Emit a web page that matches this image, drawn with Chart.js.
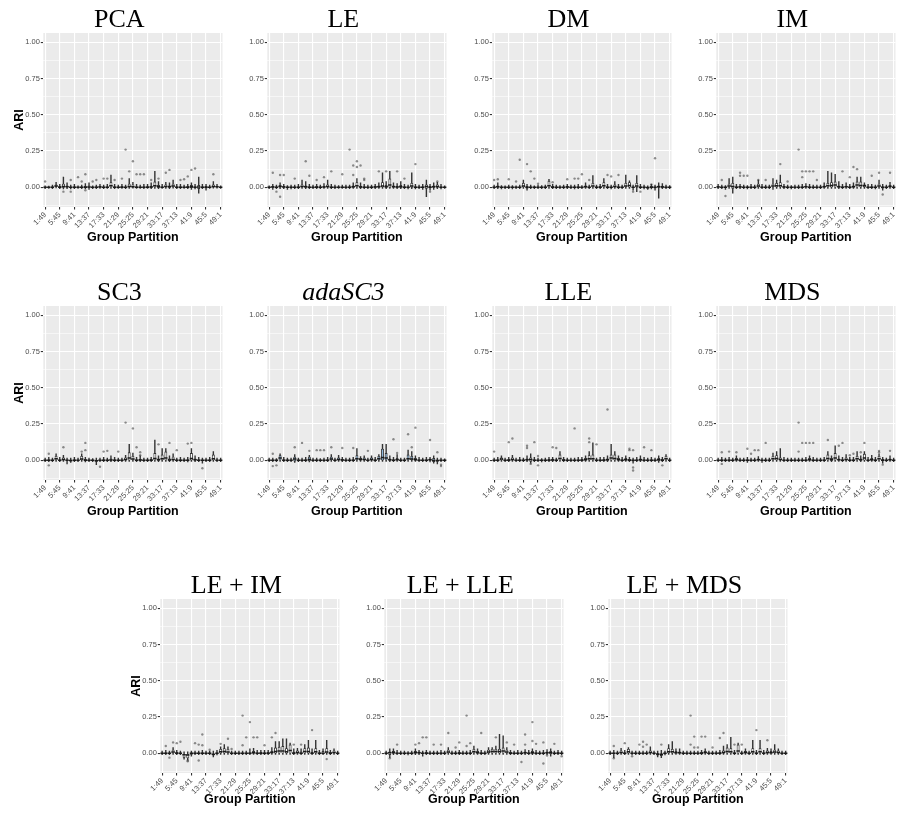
<!DOCTYPE html>
<html>
<head>
<meta charset="utf-8">
<script src="https://cdn.jsdelivr.net/npm/chart.js@4.4.1/dist/chart.umd.min.js"></script>
<style>
  html, body { margin: 0; padding: 0; background: #fff; overflow: hidden; }
  #page { position: relative; width: 897px; height: 816px; overflow: hidden; }
  .panel { position: absolute; width: 228px; height: 250px; }
</style>
</head>
<body>
<div id="page"></div>
<script>
// group partitions on the x axis
const groups = ['1:49','2:48','3:47','4:46','5:45','6:44','7:43','8:42','9:41','10:40','11:39','12:38','13:37','14:36','15:35','16:34','17:33','18:32','19:31','20:30','21:29','22:28','23:27','24:26','25:25','26:24','27:23','28:22','29:21','30:20','31:19','32:18','33:17','34:16','35:15','36:14','37:13','38:12','39:11','40:10','41:9','42:8','43:7','44:6','45:5','46:4','47:3','48:2','49:1'];
const tickLabels = ['1:49','5:45','9:41','13:37','17:33','21:29','25:25','29:21','33:17','37:13','41:9','45:5','49:1'];
const yMajor = [0, 0.25, 0.5, 0.75, 1];
const yMinor = [-0.125, 0.125, 0.375, 0.625, 0.875];
const yMin = -0.136, yMax = 1.064;

// PCA
const pcaLo = [-.01,-.008,-.01,-.005,-.01,-.012,-.01, -.012,-.01,-.008,-.01,-.01,-.015,-.01, -.01,-.008,-.01,-.008,-.008,-.01,-.008, -.008,-.01,-.008,-.006,-.008,-.008,-.01, -.008,-.01,-.008,-.01,-.008,-.008,-.01, -.006,-.01,-.01,-.008,-.01,-.015,-.012, -.04,-.01,-.02,-.008,-.006,-.006,-.008];
const pcaQ1 = [-.004,-.003,-.003,0,-.003,-.003,-.002, -.005,-.004,-.003,-.004,-.003,-.006,-.004, -.003,-.002,-.004,-.003,-.002,-.004,-.003, -.003,-.004,-.002,-.002,-.003,-.003,-.004, -.003,-.003,-.002,-.003,-.003,-.002,-.003, -.002,-.004,-.003,-.003,-.004,-.005,-.004, -.012,-.004,-.008,-.003,-.002,-.002,-.003];
const pcaMed = [0,0,0,.008,0,.005,.003, 0,0,0,0,0,.002,0, 0,.002,0,0,.01,0,0, 0,0,.005,.004,0,0,0, 0,.002,.01,.004,0,.005,.003, .008,0,0,0,0,.003,0, .002,0,0,0,.005,.003,0];
const pcaQ3 = [.003,.002,.005,.02,.008,.025,.012, .004,.006,.003,.005,.008,.012,.003, .005,.01,.004,.006,.035,.006,.004, .008,.004,.025,.02,.006,.004,.006, .007,.01,.04,.015,.006,.02,.012, .025,.006,.005,.004,.008,.015,.006, .015,.006,.008,.004,.02,.01,.003];
const pcaHi = [.01,.008,.015,.035,.02,.07,.03, .015,.02,.01,.015,.025,.03,.01, .015,.02,.015,.02,.085,.02,.015, .02,.015,.06,.035,.02,.015,.02, .02,.03,.11,.04,.02,.035,.03, .05,.02,.02,.015,.02,.03,.02, .07,.02,.02,.015,.04,.02,.01];
const pcaOut = [[1,.04],[6,-.03],[8,.05],[8,-.03],[10,.07],[11,.04],[12,.09],[12,-.02],[14,.04],[15,.05],[17,.06],[18,.06],[20,.05],[22,.06],[23,.26],[24,.11],[25,.18],[26,.09],[27,.09],[28,.09],[30,.05],[32,.06],[34,.1],[35,.12],[38,.05],[39,.055],[40,.075],[41,.12],[42,.13],[47,.09]];

// LE
const leLo = [-.01,-.015,-.01,-.01,-.01,-.015,-.012, -.01,-.01,-.008,-.01,-.01,-.01,-.01, -.01,-.008,-.008,-.01,-.01,-.008,-.008, -.01,-.01,-.008,-.008,-.01,-.01,-.01, -.01,-.01,-.008,-.008,-.01,-.008,-.008, -.01,-.01,-.01,-.012,-.01,-.012,-.01, -.015,-.065,-.02,-.015,-.01,-.012,-.008];
const leQ1 = [-.003,-.003,-.004,-.002,-.002,-.005,-.004, -.003,-.004,-.002,-.003,-.004,-.003,-.003, -.004,-.003,-.002,-.003,-.004,-.003,-.003, -.003,-.004,-.003,-.002,-.003,-.003,-.004, -.003,-.003,-.003,-.002,-.003,-.003,-.002, -.003,-.004,-.003,-.004,-.003,-.004,-.003, -.005,-.01,-.006,-.004,-.003,-.004,-.003];
const leMed = [0,.002,0,.005,.002,0,0, 0,0,.005,.003,0,0,0, 0,.002,.006,0,0,0,0, 0,0,.003,.01,.002,0,0, 0,.002,.003,.008,.004,.015,.003, .002,.004,0,0,.008,0,0, 0,.005,0,.003,.005,0,0];
const leQ3 = [.003,.008,.004,.015,.008,.004,.005, .004,.006,.02,.012,.006,.004,.008, .005,.008,.02,.006,.004,.003,.004, .004,.005,.012,.035,.01,.006,.004, .005,.008,.012,.035,.015,.06,.012, .01,.015,.006,.004,.03,.006,.004, .006,.02,.008,.012,.02,.006,.003];
const leHi = [.01,.02,.015,.03,.02,.012,.015, .015,.02,.05,.04,.02,.015,.02, .015,.025,.05,.02,.015,.012,.015, .015,.015,.03,.06,.03,.02,.015, .015,.02,.03,.1,.04,.11,.03, .025,.04,.02,.015,.1,.02,.015, .02,.05,.02,.03,.035,.02,.01];
const leOut = [[2,.1],[3,-.03],[4,.085],[5,.085],[4,-.065],[8,.06],[11,.18],[12,.08],[14,.05],[16,.07],[18,.11],[21,.09],[23,.26],[24,.15],[24,.085],[25,.18],[25,.14],[26,.15],[27,.06],[27,.05],[31,.11],[33,.11],[36,.11],[38,.06],[41,.16],[45,-.03],[47,.04]];

// DM
const dmLo = [-.01,-.01,-.012,-.01,-.01,-.012,-.01, -.01,-.008,-.02,-.01,-.01,-.01,-.01, -.01,-.008,-.01,-.01,-.01,-.01,-.01, -.01,-.012,-.01,-.01,-.008,-.01,-.008, -.01,-.01,-.008,-.01,-.012,-.008,-.01, -.01,-.008,-.008,-.02,-.03,-.01,-.012, -.015,-.012,-.02,-.075,-.01,-.01,-.01];
const dmQ1 = [-.003,-.003,-.004,-.003,-.003,-.004,-.003, -.003,-.002,-.01,-.003,-.004,-.003,-.003, -.003,-.002,-.003,-.004,-.003,-.003,-.003, -.003,-.004,-.003,-.003,-.002,-.003,-.002, -.003,-.003,-.002,-.003,-.004,-.002,-.003, -.003,-.002,-.002,-.004,-.003,-.003,-.004, -.01,-.004,-.008,-.004,-.003,-.003,-.003];
const dmMed = [0,.004,0,0,0,0,0, 0,.008,0,0,0,0,0, 0,.01,0,0,0,0,.002, 0,0,0,0,.004,0,.008, 0,0,.01,0,0,.005,0, 0,.008,.012,0,.008,0,0, -.002,0,0,.003,.002,0,0];
const dmQ3 = [.004,.012,.003,.003,.004,.003,.003, .004,.03,.008,.004,.003,.004,.003, .005,.045,.008,.004,.003,.004,.008, .004,.004,.006,.003,.012,.004,.03, .004,.008,.035,.006,.004,.02,.006, .005,.03,.035,.004,.03,.006,.004, .002,.008,.004,.012,.01,.004,.003];
const dmHi = [.015,.03,.012,.01,.015,.012,.01, .015,.05,.02,.015,.01,.015,.012, .015,.055,.02,.015,.012,.015,.02, .015,.015,.02,.012,.03,.015,.08, .015,.02,.06,.02,.015,.04,.02, .015,.085,.045,.015,.08,.02,.015, .01,.02,.015,.03,.025,.015,.012];
const dmOut = [[1,.05],[2,.055],[5,.055],[7,.04],[8,.19],[10,.16],[11,.11],[12,.06],[13,.025],[17,.035],[21,.055],[23,.06],[24,.06],[25,.09],[27,.05],[32,.085],[33,.075],[35,.085],[39,-.03],[41,-.03],[44,.02],[45,.2]];

// IM
const imLo = [-.01,-.01,-.015,-.008,-.04,-.01,-.01, -.01,-.012,-.01,-.01,-.008,-.01,-.01, -.01,-.015,-.008,-.008,-.01,-.01,-.012, -.01,-.01,-.01,-.008,-.01,-.01,-.01, -.01,-.008,-.008,-.008,-.008,-.01,-.01, -.008,-.01,-.008,-.008,-.008,-.008,-.01, -.01,-.012,-.008,-.02,-.01,-.008,-.01];
const imQ1 = [-.002,-.003,-.004,-.002,-.01,-.003,-.002, -.003,-.004,-.003,-.003,-.002,-.003,-.003, -.003,-.002,-.002,-.002,-.003,-.003,-.004, -.003,-.003,-.003,-.002,-.003,-.003,-.003, -.003,-.002,-.002,-.002,-.002,-.003,-.003, -.002,-.003,-.002,-.002,-.002,-.002,-.003, -.003,-.004,-.002,-.008,-.003,-.002,-.003];
const imMed = [.002,0,0,.008,.005,0,.002, 0,0,0,0,.008,0,0, 0,.008,.01,.01,.002,0,0, 0,0,0,.003,0,0,0, 0,.003,.01,.012,.015,.003,0, .003,0,.003,.015,.012,.012,0, 0,0,.008,0,0,.005,0];
const imQ3 = [.008,.004,.003,.025,.03,.006,.008, .004,.003,.006,.004,.025,.006,.004, .004,.025,.03,.035,.008,.004,.003, .004,.003,.006,.01,.006,.004,.004, .004,.012,.03,.035,.04,.012,.006, .01,.006,.012,.04,.04,.012,.006, .006,.004,.025,.006,.004,.015,.004];
const imHi = [.02,.015,.012,.06,.07,.02,.02, .015,.012,.02,.015,.05,.02,.015, .015,.06,.05,.085,.02,.015,.012, .015,.015,.02,.025,.02,.015,.015, .015,.03,.11,.1,.09,.04,.02, .03,.02,.03,.07,.07,.03,.02, .02,.015,.05,.02,.015,.035,.015];
const imOut = [[2,.05],[3,-.06],[7,.1],[7,.08],[8,.08],[9,.08],[12,.05],[14,.05],[18,.16],[20,.04],[23,.26],[24,.07],[24,.11],[25,.11],[26,.11],[27,.11],[28,.05],[35,.11],[37,.07],[38,.14],[39,.125],[43,.08],[45,.1],[46,-.05],[48,.1]];

// SC3
const scLo = [-.01,-.01,-.01,-.008,-.01,-.008,-.025, -.015,-.01,-.01,-.008,-.012,-.01,-.01, -.03,-.01,-.01,-.01,-.01,-.01,-.01, -.01,-.008,-.008,-.008,-.01,-.01,-.01, -.01,-.01,-.008,-.01,-.008,-.008,-.01, -.008,-.01,-.01,-.01,-.012,-.008,-.01, -.01,-.02,-.01,-.01,-.008,-.01,-.01];
const scQ1 = [-.003,-.003,-.003,-.002,-.003,-.002,-.004, -.008,-.003,-.003,-.002,-.006,-.003,-.003, -.01,-.003,-.003,-.003,-.003,-.003,-.003, -.003,-.002,-.002,-.002,-.003,-.003,-.003, -.003,-.003,-.002,-.003,-.002,-.002,-.003, -.002,-.003,-.003,-.003,-.006,-.002,-.003, -.003,-.004,-.003,-.003,-.002,-.003,-.003];
const scMed = [0,0,0,.01,0,.005,0, -.002,0,0,.008,0,0,0, -.004,0,0,0,.002,0,0, 0,.005,.015,.008,0,.002,0, 0,0,.012,.003,.01,.015,.002, .006,0,0,0,0,.012,.003, 0,0,0,0,.01,0,0];
const scQ3 = [.004,.006,.004,.03,.006,.02,.004, .004,.006,.004,.03,.008,.004,.003, .004,.003,.006,.004,.012,.006,.004, .004,.02,.055,.03,.006,.01,.004, .004,.008,.05,.012,.04,.06,.012, .025,.004,.006,.004,.006,.05,.012, .006,.004,.004,.006,.04,.004,.004];
const scHi = [.015,.02,.015,.045,.02,.035,.015, .015,.02,.015,.045,.02,.015,.012, .015,.015,.02,.015,.03,.02,.015, .015,.035,.11,.05,.02,.03,.015, .015,.02,.14,.03,.08,.08,.03, .045,.015,.02,.015,.02,.08,.03, .02,.015,.015,.02,.06,.015,.015];
const scOut = [[2,.045],[2,-.035],[6,.09],[11,.06],[12,.12],[12,.07],[16,-.045],[17,.06],[18,.065],[21,.06],[23,.26],[25,.22],[26,.09],[27,.055],[27,.035],[32,.11],[35,.12],[37,.07],[40,.115],[41,.12],[44,-.055]];

// adaSC3
const adaLo = [-.01,-.01,-.01,-.008,-.01,-.01,-.01, -.015,-.01,-.01,-.01,-.012,-.01,-.01, -.01,-.01,-.01,-.008,-.01,-.008,-.01, -.01,-.01,-.01,-.008,-.008,-.008,-.01, -.008,-.01,-.008,-.008,-.008,-.01,-.01, -.008,-.01,-.01,-.008,-.008,-.008,-.01, -.01,-.01,-.012,-.02,-.025,-.01,-.01];
const adaQ1 = [-.003,-.003,-.003,-.002,-.003,-.003,-.003, -.008,-.003,-.003,-.003,-.006,-.003,-.003, -.003,-.003,-.003,-.002,-.003,-.002,-.003, -.003,-.003,-.003,-.002,-.002,-.002,-.003, -.002,-.003,-.002,-.002,-.002,-.003,-.003, -.002,-.003,-.003,-.002,-.002,-.002,-.003, -.003,-.003,-.004,-.012,-.01,-.003,-.003];
const adaMed = [0,0,0,.015,0,0,0, .008,0,0,0,.005,0,0, 0,0,0,.008,0,.005,.002, 0,0,0,.01,.005,.005,0, .006,0,.01,.02,.015,.003,0, .004,0,0,.01,.008,.004,0, 0,0,.003,-.002,-.002,0,0];
const adaQ3 = [.004,.004,.003,.035,.006,.004,.004, .025,.004,.004,.006,.025,.004,.004, .003,.004,.006,.025,.004,.02,.008, .004,.004,.006,.035,.015,.02,.004, .02,.006,.03,.08,.05,.012,.006, .015,.004,.004,.04,.03,.015,.006, .004,.006,.012,.015,.004,.004,.003];
const adaHi = [.015,.015,.012,.045,.02,.015,.015, .04,.015,.015,.02,.035,.015,.015, .012,.015,.02,.04,.015,.035,.02, .015,.015,.02,.08,.025,.03,.015, .03,.02,.04,.11,.11,.03,.02, .04,.015,.015,.07,.06,.03,.02, .015,.02,.02,.03,.015,.015,.01];
const adaOut = [[2,.045],[2,-.04],[3,-.035],[8,.09],[10,.12],[12,.065],[14,.07],[15,.07],[16,.07],[18,.09],[21,.085],[24,.085],[28,.065],[35,.145],[36,.05],[39,.18],[40,.09],[41,.225],[45,.14],[47,.055],[48,-.03],[48,-.04]];

// LLE
const lleLo = [-.01,-.01,-.008,-.01,-.01,-.008,-.01, -.01,-.01,-.01,-.02,-.01,-.01,-.012, -.01,-.01,-.01,-.01,-.008,-.01,-.01, -.01,-.01,-.01,-.01,-.008,-.008,-.008, -.01,-.01,-.01,-.01,-.008,-.008,-.008, -.01,-.008,-.01,-.02,-.01,-.01,-.01, -.01,-.01,-.01,-.015,-.01,-.008,-.01];
const lleQ1 = [-.003,-.003,-.002,-.003,-.003,-.002,-.003, -.003,-.003,-.003,-.01,-.003,-.003,-.004, -.003,-.003,-.003,-.003,-.002,-.003,-.003, -.003,-.003,-.003,-.003,-.002,-.002,-.002, -.003,-.003,-.003,-.003,-.002,-.002,-.002, -.003,-.002,-.003,-.008,-.003,-.003,-.003, -.003,-.003,-.003,-.006,-.003,-.002,-.003];
const lleMed = [0,0,.008,0,0,.006,0, 0,0,.003,.005,0,0,0, 0,0,.002,0,.012,0,0, 0,0,0,0,.004,.01,.01, 0,0,0,.003,.015,.012,.004, 0,.004,0,0,0,.003,0, 0,0,0,.004,0,.01,0];
const lleQ3 = [.004,.006,.02,.004,.008,.02,.004, .006,.004,.012,.02,.006,.004,.003, .004,.008,.01,.004,.04,.008,.004, .004,.004,.006,.008,.015,.035,.04, .004,.006,.008,.012,.04,.04,.015, .006,.015,.008,.004,.006,.012,.006, .004,.006,.004,.015,.008,.03,.004];
const lleHi = [.015,.02,.03,.015,.02,.035,.015, .02,.015,.03,.045,.02,.015,.012, .015,.02,.02,.015,.06,.02,.015, .015,.015,.02,.02,.03,.06,.12, .015,.02,.02,.03,.11,.06,.03, .02,.03,.02,.015,.02,.03,.02, .015,.02,.015,.03,.02,.04,.015];
const lleOut = [[1,.06],[5,.125],[6,.15],[10,.1],[10,.085],[11,-.025],[12,.125],[13,.03],[13,-.035],[17,.09],[18,.085],[23,.22],[27,.15],[27,.125],[29,.11],[32,.35],[38,.08],[38,.07],[39,.07],[39,-.05],[39,-.07],[42,.09],[44,.07],[47,-.035]];

// MDS
const mdsLo = [-.01,-.01,-.01,-.01,-.01,-.008,-.01, -.01,-.015,-.01,-.01,-.008,-.015,-.01, -.01,-.008,-.008,-.008,-.01,-.01,-.01, -.01,-.01,-.01,-.01,-.008,-.01,-.01, -.01,-.01,-.008,-.01,-.008,-.008,-.01, -.008,-.01,-.01,-.008,-.01,-.008,-.01, -.008,-.01,-.008,-.02,-.01,-.008,-.01];
const mdsQ1 = [-.003,-.003,-.003,-.003,-.003,-.002,-.003, -.003,-.006,-.003,-.003,-.002,-.006,-.003, -.003,-.002,-.002,-.002,-.003,-.003,-.003, -.003,-.003,-.003,-.003,-.002,-.003,-.003, -.003,-.003,-.002,-.003,-.002,-.002,-.003, -.002,-.003,-.003,-.002,-.003,-.002,-.003, -.002,-.003,-.002,-.006,-.003,-.002,-.003];
const mdsMed = [0,0,0,0,0,.004,0, 0,0,0,0,.003,0,0, 0,.01,.012,.006,0,0,0, 0,0,0,0,.004,0,0, 0,0,.012,.003,.015,.003,0, .006,0,0,.01,.003,.015,0, .004,0,.01,0,0,.003,0];
const mdsQ3 = [.004,.006,.004,.006,.004,.015,.004, .004,.006,.004,.004,.012,.004,.004, .004,.03,.035,.02,.006,.004,.004, .004,.004,.004,.006,.015,.006,.004, .004,.006,.04,.015,.05,.012,.006, .02,.006,.006,.03,.012,.045,.006, .015,.006,.03,.008,.004,.012,.004];
const mdsHi = [.015,.02,.015,.02,.015,.03,.015, .015,.02,.015,.015,.025,.015,.015, .015,.05,.06,.08,.02,.015,.015, .015,.015,.015,.02,.03,.02,.015, .015,.02,.06,.03,.1,.03,.02, .04,.02,.02,.06,.03,.06,.02, .035,.02,.045,.02,.015,.03,.015];
const mdsOut = [[2,.055],[2,-.025],[4,.06],[6,.055],[9,.08],[10,.045],[11,.07],[12,.07],[14,.12],[23,.26],[23,.06],[24,.12],[25,.12],[26,.12],[27,.12],[31,.14],[34,.1],[35,.12],[37,.035],[38,.045],[40,.055],[41,.12],[45,.065],[45,.055],[46,-.03],[48,.065]];

// LE + IM
const leImLo = [-.01,-.01,-.01,-.008,-.01,-.01,-.04, -.045,-.02,-.01,-.01,-.01,-.01,-.01, -.025,-.012,-.008,-.008,-.008,-.01,-.01, -.01,-.01,-.01,-.01,-.008,-.01,-.01, -.01,-.01,-.008,-.008,-.008,-.008,-.008, -.008,-.01,-.008,-.01,-.008,-.008,-.01, -.008,-.01,-.01,-.008,-.01,-.008,-.01];
const leImQ1 = [-.003,-.003,-.003,-.002,-.003,-.003,-.03, -.035,-.01,-.003,-.003,-.003,-.003,-.003, -.015,-.006,-.002,-.002,-.002,-.003,-.003, -.003,-.003,-.003,-.003,-.002,-.003,-.003, -.003,-.003,-.002,-.002,-.002,-.002,-.002, -.002,-.003,-.002,-.003,-.002,-.002,-.003, -.002,-.003,-.003,-.002,-.003,-.002,-.003];
const leImMed = [0,0,0,.008,0,0,-.01, -.012,0,0,0,0,0,0, -.006,0,.01,.012,.008,0,0, 0,0,0,0,.003,0,0, 0,0,.005,.012,.015,.015,.01, .02,0,.006,0,.012,.012,0, .01,0,0,.008,0,.006,0];
const leImQ3 = [.004,.006,.004,.025,.008,.004,0, 0,.004,.004,.004,.006,.004,.004, 0,.006,.03,.035,.03,.004,.004, .004,.004,.004,.006,.015,.006,.008, .006,.008,.015,.04,.045,.05,.035, .06,.01,.02,.012,.035,.04,.01, .035,.006,.015,.035,.008,.02,.004];
const leImHi = [.015,.02,.015,.04,.02,.015,.01, .01,.015,.015,.015,.02,.015,.015, .015,.02,.045,.06,.045,.015,.015, .015,.015,.015,.03,.035,.02,.02, .02,.02,.04,.08,.08,.1,.1, .07,.03,.035,.03,.06,.09,.03, .09,.02,.03,.09,.02,.03,.015];
const leImOut = [[2,.05],[3,-.03],[4,.075],[5,.07],[6,.08],[8,-.05],[8,-.055],[10,.07],[11,.06],[11,-.05],[12,.055],[12,.13],[14,.025],[17,.065],[19,.1],[20,.03],[23,.26],[23,.055],[24,.11],[25,.215],[26,.11],[27,.11],[29,.055],[31,.11],[32,.14],[37,.06],[39,.06],[42,.16],[46,-.04]];

// LE + LLE
const leLleLo = [-.01,-.03,-.01,-.01,-.01,-.01,-.012, -.01,-.01,-.01,-.02,-.01,-.01,-.01, -.01,-.01,-.01,-.008,-.01,-.01,-.01, -.01,-.01,-.01,-.008,-.008,-.01,-.01, -.008,-.008,-.008,-.008,-.008,-.008,-.01, -.01,-.01,-.01,-.01,-.01,-.01,-.01, -.01,-.01,-.01,-.02,-.01,-.01,-.01];
const leLleQ1 = [-.003,-.012,-.003,-.003,-.003,-.003,-.004, -.003,-.003,-.003,-.005,-.003,-.003,-.003, -.003,-.003,-.003,-.002,-.003,-.003,-.003, -.003,-.003,-.003,-.002,-.002,-.003,-.003, -.002,-.002,-.002,-.002,-.002,-.002,-.003, -.003,-.003,-.003,-.003,-.003,-.003,-.003, -.003,-.003,-.003,-.006,-.003,-.003,-.003];
const leLleMed = [0,.003,.005,0,0,0,0, 0,.005,.004,0,0,0,0, 0,0,0,.008,0,0,0, 0,0,0,.01,.004,0,0, .008,.012,.012,.012,.015,.008,0, 0,0,0,.003,0,.004,0, 0,0,.004,.004,0,0,0];
const leLleQ3 = [.006,.012,.015,.006,.004,.004,.003, .004,.015,.012,.004,.008,.004,.004, .004,.006,.004,.025,.004,.004,.008, .004,.004,.006,.03,.015,.006,.004, .025,.03,.03,.03,.04,.025,.008, .004,.006,.004,.012,.006,.015,.006, .004,.006,.012,.015,.004,.008,.004];
const leLleHi = [.015,.03,.03,.02,.015,.015,.012, .015,.03,.02,.015,.02,.015,.015, .015,.02,.015,.04,.015,.015,.02, .015,.015,.02,.05,.03,.02,.015, .04,.04,.05,.13,.12,.04,.02, .015,.02,.015,.025,.02,.03,.02, .015,.02,.025,.03,.015,.02,.015];
const leLleOut = [[2,-.035],[4,.06],[9,.06],[10,.07],[11,.11],[12,.11],[14,.06],[16,.06],[18,.14],[20,.04],[21,.075],[23,.26],[23,.05],[24,.07],[27,.14],[31,.11],[34,.075],[36,.06],[38,-.06],[39,.13],[39,.06],[41,.215],[41,.085],[42,.065],[44,-.07],[44,.075],[45,-.015],[47,.065],[49,-.02]];

// LE + MDS
const leMdsLo = [-.01,-.03,-.01,-.008,-.01,-.008,-.01, -.01,-.01,-.01,-.01,-.008,-.01,-.025, -.03,-.012,-.008,-.008,-.008,-.008,-.01, -.01,-.01,-.01,-.01,-.01,-.008,-.01, -.01,-.01,-.01,-.008,-.008,-.008,-.01, -.008,-.01,-.008,-.01,-.008,-.01,-.008, -.01,-.008,-.008,-.008,-.008,-.01,-.01];
const leMdsQ1 = [-.003,-.003,-.003,-.002,-.003,-.002,-.003, -.003,-.003,-.003,-.003,-.002,-.003,-.015, -.018,-.006,-.002,-.002,-.002,-.002,-.003, -.003,-.003,-.003,-.003,-.003,-.002,-.003, -.003,-.003,-.003,-.002,-.002,-.002,-.003, -.002,-.003,-.002,-.003,-.002,-.003,-.002, -.003,-.002,-.002,-.002,-.002,-.003,-.003];
const leMdsMed = [0,0,0,.006,0,.01,0, 0,0,0,0,.006,0,-.005, -.006,0,.01,.01,.004,.004,0, 0,0,0,0,0,.005,0, 0,0,0,.006,.012,.01,0, .015,0,.005,0,.01,0,.01, 0,.006,.004,.008,.006,0,0];
const leMdsQ3 = [.004,.004,.004,.02,.006,.03,.004, .004,.004,.004,.004,.02,.004,0, 0,.004,.035,.03,.015,.012,.004, .004,.004,.004,.004,.008,.015,.004, .004,.006,.008,.02,.04,.035,.006, .06,.004,.015,.006,.035,.006,.035, .006,.02,.015,.025,.02,.004,.004];
const leMdsHi = [.015,.02,.015,.035,.02,.04,.015, .015,.015,.015,.015,.045,.015,.015, .02,.015,.06,.08,.03,.03,.015, .015,.015,.015,.015,.02,.03,.015, .015,.015,.02,.05,.06,.11,.02, .07,.015,.03,.015,.09,.02,.09, .02,.035,.03,.06,.03,.015,.015];
const leMdsOut = [[2,.05],[2,-.035],[5,.07],[7,-.02],[9,.06],[10,.045],[10,.08],[11,.06],[15,.06],[23,.26],[23,.06],[24,.115],[24,.04],[25,.04],[26,.115],[27,.115],[29,.04],[31,.105],[32,.14],[35,.06],[37,.06],[41,.16],[44,.09]];

const panels = [
  { title: 'PCA', lo: pcaLo, q1: pcaQ1, med: pcaMed, q3: pcaQ3, hi: pcaHi, out: pcaOut },
  { title: 'LE', lo: leLo, q1: leQ1, med: leMed, q3: leQ3, hi: leHi, out: leOut },
  { title: 'DM', lo: dmLo, q1: dmQ1, med: dmMed, q3: dmQ3, hi: dmHi, out: dmOut },
  { title: 'IM', lo: imLo, q1: imQ1, med: imMed, q3: imQ3, hi: imHi, out: imOut },
  { title: 'SC3', lo: scLo, q1: scQ1, med: scMed, q3: scQ3, hi: scHi, out: scOut },
  { title: 'adaSC3', italic: true, fill: '#8fb8dc', lo: adaLo, q1: adaQ1, med: adaMed, q3: adaQ3, hi: adaHi, out: adaOut },
  { title: 'LLE', lo: lleLo, q1: lleQ1, med: lleMed, q3: lleQ3, hi: lleHi, out: lleOut },
  { title: 'MDS', lo: mdsLo, q1: mdsQ1, med: mdsMed, q3: mdsQ3, hi: mdsHi, out: mdsOut },
  { title: 'LE + IM', lo: leImLo, q1: leImQ1, med: leImMed, q3: leImQ3, hi: leImHi, out: leImOut },
  { title: 'LE + LLE', lo: leLleLo, q1: leLleQ1, med: leLleMed, q3: leLleQ3, hi: leLleHi, out: leLleOut },
  { title: 'LE + MDS', lo: leMdsLo, q1: leMdsQ1, med: leMdsMed, q3: leMdsQ3, hi: leMdsHi, out: leMdsOut }
];

// where each panel sits: left, top, ARI label, gap under the x title
const spots = [
  [0, 0, true, 6], [224.3, 0, false, 6], [448.6, 0, false, 6], [672.9, 0, false, 6],
  [0, 273.4, true, 5], [224.3, 273.4, false, 5], [448.6, 273.4, false, 5], [672.9, 273.4, false, 5],
  [116.7, 566, true, 10.5], [341, 566, false, 10.5], [565.3, 566, false, 10.5]
];

panels.forEach(p => {
  ['lo','q1','med','q3','hi'].forEach(k => {
    if (p[k].length !== groups.length) throw new Error(p.title + ' ' + k + ' has ' + p[k].length);
  });
});

// grey panel background like ggplot
const panelBg = {
  id: 'panelBg',
  beforeDraw(chart) {
    const {ctx, chartArea: a} = chart;
    ctx.save();
    ctx.fillStyle = '#ebebeb';
    ctx.fillRect(a.left, a.top, a.right - a.left, a.bottom - a.top);
    ctx.restore();
  }
};

const page = document.getElementById('page');
const tickFont = { family: 'Liberation Sans', size: 7.5 };
const axisTitleFont = { family: 'Liberation Sans', size: 12.5, weight: 'bold', lineHeight: 1 };

panels.forEach((p, n) => {
  const [left, top, yTitle, xGap] = spots[n];
  const box = document.createElement('div');
  box.className = 'panel';
  box.style.left = left + 'px';
  box.style.top = top + 'px';
  const cv = document.createElement('canvas');
  cv.width = 228; cv.height = 250;
  box.appendChild(cv);
  page.appendChild(box);

  new Chart(cv, {
    type: 'bar',
    data: {
      labels: groups,
      datasets: [
        { // medians
          type: 'line', data: p.med, showLine: false,
          pointStyle: 'line', pointRadius: 1.7, pointBorderWidth: 1.5,
          pointBorderColor: '#1a1a1a', borderColor: '#1a1a1a', order: 0
        },
        { // boxes q1..q3
          data: p.q1.map((v, i) => [v, p.q3[i]]),
          backgroundColor: p.fill || '#ffffff', borderColor: '#333333', borderWidth: 0.9,
          borderSkipped: false, barPercentage: 0.8, categoryPercentage: 1, grouped: false, order: 1
        },
        { // whiskers
          data: p.lo.map((v, i) => [v, p.hi[i]]),
          backgroundColor: '#333333', barThickness: 0.75, grouped: false, order: 2
        },
        { // outliers
          type: 'line', data: p.out.map(([c, v]) => ({ x: groups[c - 1], y: v })),
          showLine: false, pointRadius: 1.2, pointBorderWidth: 0,
          pointBackgroundColor: 'rgba(70,70,70,0.6)', order: 3
        }
      ]
    },
    options: {
      responsive: false,
      animation: false,
      events: [],
      layout: { padding: { top: 7, left: 13, right: 2.3, bottom: 0 } },
      plugins: {
        legend: { display: false },
        tooltip: { enabled: false },
        title: {
          display: true, text: p.title, color: '#000', padding: 0,
          font: { family: 'Liberation Serif', size: 26, weight: 'normal', style: p.italic ? 'italic' : 'normal', lineHeight: 1 }
        }
      },
      scales: {
        x: {
          offset: true,
          border: { display: false },
          grid: {
            offset: false, lineWidth: 1.1, tickLength: 2.5,
            color: c => tickLabels.includes(groups[c.index]) ? '#ffffff' : 'rgba(0,0,0,0)',
            tickColor: c => tickLabels.includes(groups[c.index]) ? '#333333' : 'rgba(0,0,0,0)'
          },
          ticks: {
            autoSkip: false, minRotation: 45, maxRotation: 45, padding: 1,
            color: '#4d4d4d', font: tickFont,
            callback: (v, i) => tickLabels.includes(groups[i]) ? groups[i] : ''
          },
          title: { display: true, text: 'Group Partition', color: '#000', font: axisTitleFont, padding: { top: 0, bottom: xGap } },
          afterFit: s => { s.height = 43; s.paddingLeft = 0; s.paddingRight = 0; }
        },
        y: {
          min: yMin, max: yMax,
          afterBuildTicks: s => { s.ticks = yMinor.concat(yMajor).sort((a, b) => a - b).map(v => ({ value: v })); },
          border: { display: false },
          grid: {
            color: '#ffffff', tickLength: 2.5,
            lineWidth: c => yMajor.includes(c.tick.value) ? 1.1 : 0.55,
            tickColor: c => yMajor.includes(c.tick.value) ? '#333333' : 'rgba(0,0,0,0)'
          },
          ticks: {
            padding: 1, color: '#4d4d4d', font: tickFont,
            callback: v => yMajor.includes(v) ? v.toFixed(2) : ''
          },
          title: { display: !!yTitle, text: 'ARI', color: '#000', font: axisTitleFont, padding: 0 },
          afterFit: s => { s.width = 30.3; }
        }
      }
    },
    plugins: [panelBg]
  });
});
</script>
</body>
</html>
